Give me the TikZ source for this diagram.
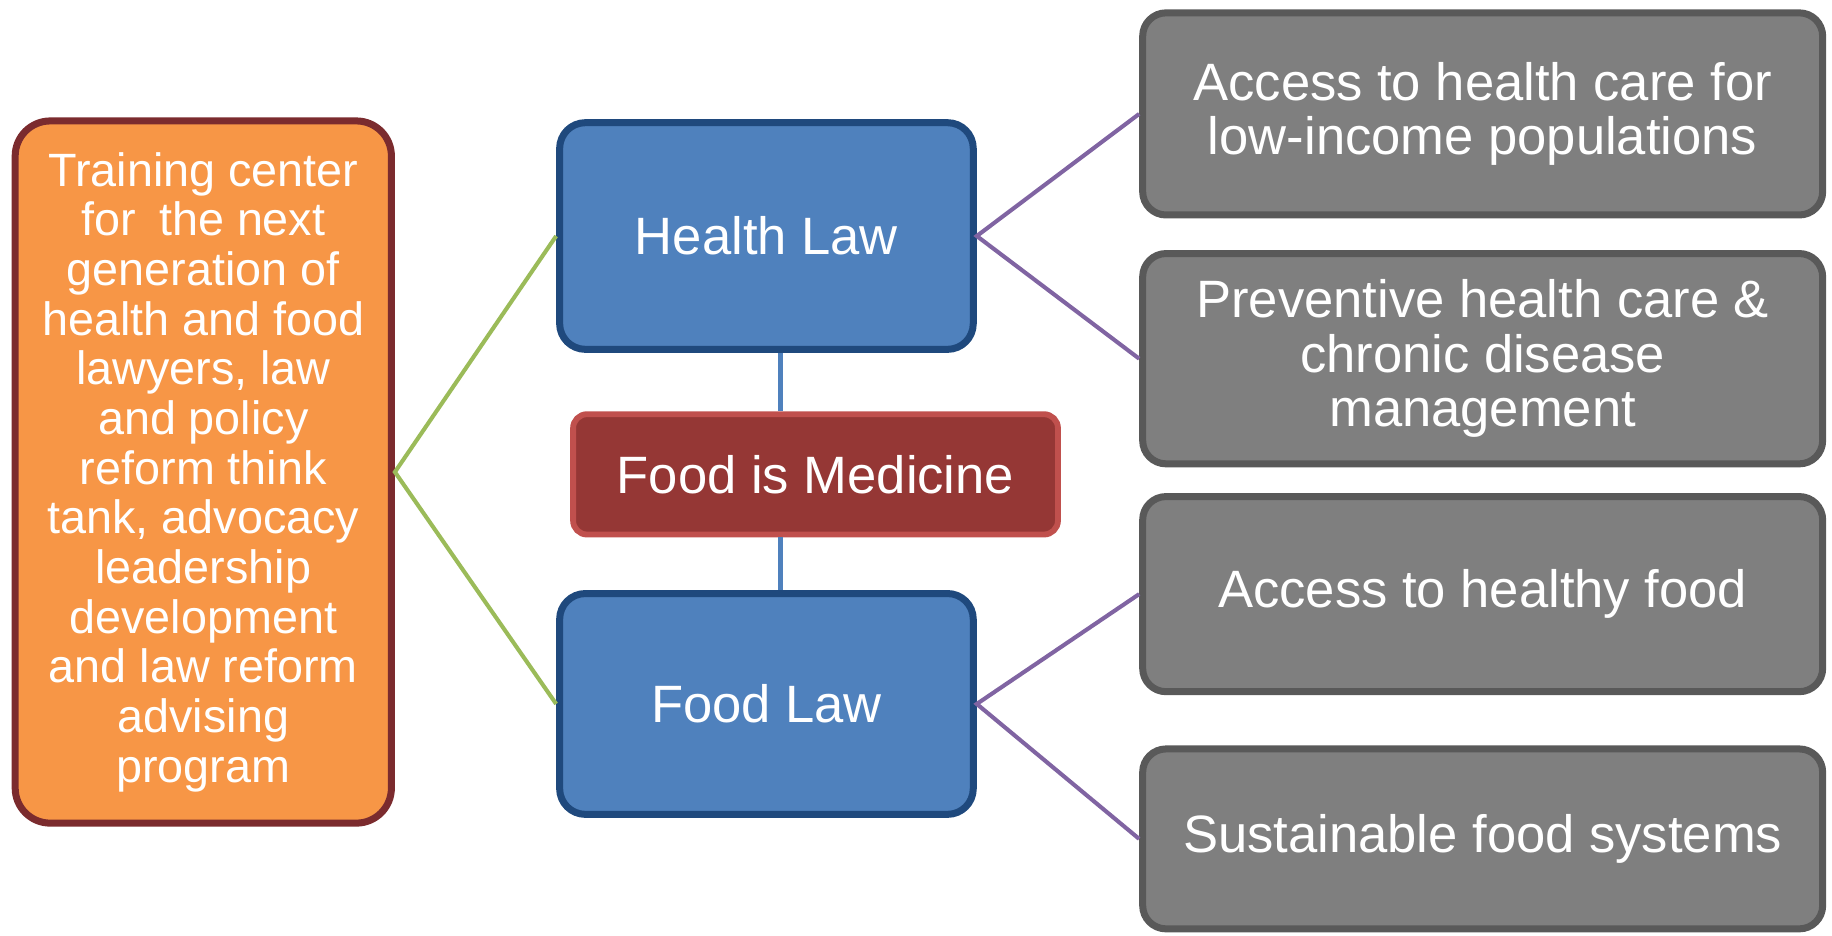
\documentclass[tikz,border=0pt]{standalone}
\usepackage{fontspec}
\setmainfont{Liberation Sans}
\definecolor{orfill}{HTML}{F79646}
\definecolor{ordraw}{HTML}{7B2B2E}
\definecolor{blfill}{HTML}{4F81BD}
\definecolor{bldraw}{HTML}{1F497D}
\definecolor{rdfill}{HTML}{953735}
\definecolor{rddraw}{HTML}{C0504D}
\definecolor{gyfill}{HTML}{7F7F7F}
\definecolor{gydraw}{HTML}{595959}
\definecolor{grline}{HTML}{9BBB59}
\definecolor{puline}{HTML}{8064A2}
\begin{document}
\begin{tikzpicture}[x=1pt,y=-1pt,
  boxbase/.style={rectangle, text=white, align=center, inner sep=0pt},
  orbox/.style={boxbase, fill=orfill, draw=ordraw, line width=6pt, rounded corners=30pt,
    minimum width=322pt, minimum height=601pt, font=\fontsize{40}{42.5}\selectfont},
  blbox/.style={boxbase, fill=blfill, draw=bldraw, line width=6pt, rounded corners=22pt,
    minimum width=354pt, font=\fontsize{45}{50}\selectfont},
  rdbox/.style={boxbase, fill=rdfill, draw=rddraw, line width=5pt, rounded corners=12pt,
    minimum width=415pt, minimum height=103pt, font=\fontsize{45}{50}\selectfont},
  gybox/.style={boxbase, fill=gyfill, draw=gydraw, line width=6pt, rounded corners=20pt,
    minimum width=582pt, font=\fontsize{45}{46.5}\selectfont},
  grconn/.style={draw=grline, line width=3.5pt},
  puconn/.style={draw=puline, line width=3.5pt},
  blconn/.style={draw=blfill, line width=5pt}
]
\useasboundingbox (0,0) rectangle (1568,801);

\node[orbox] (train) at (174,404) {Training center\\for\enspace the next\\generation of\\health and food\\lawyers, law\\and policy\\reform think\\tank, advocacy\\leadership\\development\\and law reform\\advising\\program};

\node[blbox, minimum height=194pt] (hl) at (656,202) {Health Law};
\node[blbox, minimum height=189pt] (fl) at (656,602.5) {Food Law};
\node[rdbox] (fim) at (698,406) {Food is Medicine};

\node[gybox, minimum height=173pt] (g1) at (1269,97.5) {Access to health care for\\low-income populations};
\node[gybox, minimum height=180pt] (g2) at (1269,307) {Preventive health care \&\\chronic disease\\management};
\node[gybox, minimum height=167pt] (g3) at (1269,508.5) {Access to healthy food};
\node[gybox, minimum height=154pt] (g4) at (1269,718) {Sustainable food systems};

\coordinate (vx) at (668,0);
\draw[blconn] (hl.south -| vx) -- (fim.north -| vx);
\draw[blconn] (fim.south -| vx) -- (fl.north -| vx);

\draw[grconn] (hl.west) -- (train.east) -- (fl.west);
\draw[puconn] (g1.west) -- (hl.east) -- (g2.west);
\draw[puconn] (g3.west) -- (fl.east) -- (g4.west);
\end{tikzpicture}
\end{document}
